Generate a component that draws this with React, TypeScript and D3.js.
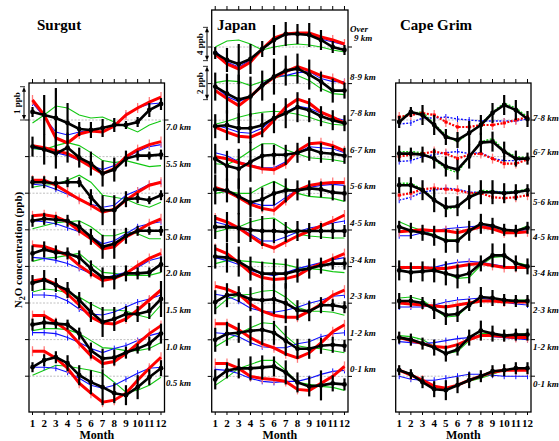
import * as d3 from "d3";

const months = d3.range(1, 13);
const monthLabels = months.map(String);

// ---- Surgut (anomalies, ppb) ----
const surgutLevels = ["7.0 km", "5.5 km", "4.0 km", "3.0 km", "2.0 km", "1.5 km", "1.0 km", "0.5 km"];
const surgutObs = [
  [0.24, 0.15, 0.06, -0.09, -0.27, -0.3, -0.24, -0.15, -0.15, -0.06, 0.3, 0.48],
  [0.3, 0.21, 0.09, 0.27, -0.03, -0.21, -0.51, -0.39, -0.06, 0.03, 0.03, 0.06],
  [0.33, 0.33, 0.3, 0.33, 0.33, -0.12, -0.51, -0.51, -0.18, -0.15, -0.21, -0.06],
  [0.27, 0.33, 0.3, 0.27, 0.09, -0.21, -0.51, -0.42, -0.18, -0.03, -0.03, -0.03],
  [0.39, 0.51, 0.42, 0.39, 0.27, -0.06, -0.33, -0.33, -0.21, -0.21, -0.18, 0.06],
  [0.6, 0.69, 0.54, 0.39, 0.09, -0.27, -0.57, -0.48, -0.33, -0.33, -0.24, 0.12],
  [0.45, 0.51, 0.48, 0.45, 0.18, -0.33, -0.57, -0.54, -0.39, -0.27, -0.12, 0.18],
  [0.27, 0.48, 0.57, 0.39, 0.03, -0.18, -0.33, -0.51, -0.57, -0.33, -0.03, 0.24],
];
const surgutErr = [
  [0.15, 0.6, 0.9, 0.6, 0.21, 0.24, 0.27, 0.21, 0.12, 0.15, 0.21, 0.18],
  [0.3, 0.45, 0.45, 0.45, 0.3, 0.36, 0.39, 0.36, 0.24, 0.15, 0.12, 0.15],
  [0.18, 0.18, 0.21, 0.15, 0.15, 0.24, 0.45, 0.45, 0.24, 0.15, 0.12, 0.15],
  [0.18, 0.18, 0.15, 0.18, 0.18, 0.24, 0.36, 0.45, 0.24, 0.15, 0.12, 0.15],
  [0.24, 0.24, 0.21, 0.18, 0.21, 0.24, 0.3, 0.36, 0.24, 0.18, 0.15, 0.24],
  [0.24, 0.3, 0.21, 0.24, 0.24, 0.3, 0.45, 0.36, 0.24, 0.24, 0.24, 0.54],
  [0.18, 0.18, 0.15, 0.15, 0.18, 0.24, 0.3, 0.24, 0.18, 0.15, 0.21, 0.3],
  [0.15, 0.18, 0.18, 0.24, 0.3, 0.36, 0.54, 0.3, 0.3, 0.36, 0.24, 0.24],
];
const surgutRed = [
  [0.6, 0.15, -0.54, -0.69, -0.42, -0.33, -0.36, -0.18, 0.15, 0.36, 0.54, 0.69],
  [0.33, 0.27, 0.18, 0.09, -0.09, -0.3, -0.51, -0.36, 0, 0.21, 0.36, 0.45],
  [0.39, 0.39, 0.24, 0.03, -0.18, -0.36, -0.57, -0.48, -0.21, 0.03, 0.24, 0.33],
  [0.42, 0.45, 0.39, 0.24, -0.03, -0.27, -0.57, -0.51, -0.21, -0.03, 0.18, 0.33],
  [0.63, 0.6, 0.48, 0.33, 0.03, -0.21, -0.42, -0.36, -0.21, 0.03, 0.24, 0.39],
  [0.66, 0.72, 0.57, 0.27, -0.06, -0.42, -0.6, -0.63, -0.48, -0.21, 0.09, 0.39],
  [0.72, 0.72, 0.51, 0.27, -0.12, -0.48, -0.72, -0.66, -0.42, -0.12, 0.18, 0.42],
  [0.75, 0.75, 0.54, 0.24, -0.21, -0.51, -0.78, -0.72, -0.51, -0.12, 0.24, 0.57],
];
const surgutBlue = [
  [0.51, 0.09, -0.36, -0.45, -0.36, -0.3, -0.24, -0.15, 0.15, 0.36, 0.48, 0.51],
  [0.27, 0.21, 0.12, 0.03, -0.12, -0.27, -0.39, -0.27, -0.03, 0.15, 0.3, 0.36],
  [0.27, 0.24, 0.12, -0.03, -0.18, -0.33, -0.42, -0.36, -0.06, 0.09, 0.27, 0.33],
  [0.27, 0.24, 0.18, 0.06, -0.06, -0.21, -0.42, -0.33, -0.12, 0.09, 0.18, 0.24],
  [0.27, 0.24, 0.18, 0.09, -0.06, -0.21, -0.36, -0.27, -0.18, -0.03, 0.18, 0.27],
  [0.24, 0.24, 0.21, 0.06, -0.18, -0.33, -0.36, -0.27, -0.12, 0.03, 0.12, 0.24],
  [0.21, 0.21, 0.18, 0.06, -0.09, -0.27, -0.39, -0.27, -0.18, -0.03, 0.12, 0.21],
  [0.27, 0.27, 0.24, 0.12, -0.06, -0.27, -0.36, -0.27, -0.09, 0.09, 0.24, 0.27],
];
const surgutGreen = [
  [-0.09, 0.15, 0.42, 0.36, 0.15, 0.06, 0.09, -0.06, -0.21, -0.36, -0.15, -0.03],
  [0.24, 0.21, 0.33, 0.42, 0.33, 0.12, -0.12, -0.18, -0.12, -0.21, -0.3, -0.27],
  [0.18, 0.24, 0.27, 0.39, 0.54, 0.33, -0.06, -0.12, -0.18, -0.33, -0.42, -0.27],
  [0.03, 0.12, 0.21, 0.24, 0.27, 0.09, -0.18, -0.18, -0.06, -0.12, -0.27, -0.27],
  [0.15, 0.24, 0.27, 0.33, 0.39, 0.09, -0.18, -0.21, -0.27, -0.27, -0.27, -0.18],
  [0.33, 0.42, 0.39, 0.3, 0.18, -0.03, -0.21, -0.21, -0.24, -0.36, -0.45, -0.06],
  [0.27, 0.33, 0.33, 0.3, 0.18, -0.03, -0.24, -0.27, -0.33, -0.33, -0.27, -0.09],
  [0.03, 0.18, 0.33, 0.3, 0.24, 0.18, 0.09, -0.18, -0.48, -0.42, -0.27, -0.03],
];

// ---- Japan ----
const japanLevels = ["Over 9 km", "8-9 km", "7-8 km", "6-7 km", "5-6 km", "4-5 km", "3-4 km", "2-3 km", "1-2 km", "0-1 km"];
const japanObs = [
  [-0.72, -1.56, -2.04, -1.44, -0.24, 0.84, 1.56, 1.56, 1.44, 0.84, 0, -0.36],
  [-0.18, -0.6, -0.96, -0.78, -0.12, 0.42, 0.78, 0.9, 0.54, 0.12, -0.42, -0.42],
  [-0.36, -0.3, -0.48, -0.48, -0.3, 0.12, 0.42, 0.78, 0.6, 0.24, 0, -0.18],
  [-0.12, -0.54, -0.72, -0.3, 0.06, 0.12, 0.12, 0.24, 0.48, 0.24, 0.18, 0.06],
  [0.24, 0.18, -0.18, -0.54, -0.36, 0, 0.18, 0.18, 0.3, 0.24, 0.06, 0],
  [0.18, 0.18, 0.12, 0, -0.06, -0.06, -0.12, -0.06, -0.06, -0.06, -0.06, -0.06],
  [0.6, 0.54, 0.3, -0.12, -0.42, -0.42, -0.42, -0.24, -0.12, 0.06, 0.18, 0.18],
  [0.06, 0.48, 0.54, 0.24, 0.18, 0.24, 0, -0.42, -0.48, -0.12, -0.12, -0.24],
  [0, 0.36, 0.42, 0.54, 0.6, 0.42, -0.06, -0.54, -0.54, -0.36, -0.3, -0.36],
  [-0.18, 0.36, 0.48, 0.48, 0.54, 0.6, 0.24, -0.36, -0.6, -0.54, -0.42, -0.48],
];
const japanErr = [
  [0.72, 1.44, 2.4, 1.8, 0.96, 1.8, 1.44, 1.2, 1.44, 1.2, 0.72, 0.6],
  [0.84, 1.2, 1.5, 1.2, 0.9, 1.08, 0.9, 0.9, 0.9, 0.6, 0.72, 0.48],
  [0.72, 0.9, 0.9, 0.9, 0.72, 0.9, 0.9, 0.9, 0.72, 0.6, 0.6, 0.48],
  [0.9, 0.9, 1.2, 1.2, 0.72, 0.6, 0.6, 0.6, 0.72, 0.6, 0.48, 0.48],
  [0.9, 0.72, 1.08, 0.9, 0.72, 0.72, 0.72, 0.6, 0.48, 0.48, 0.48, 0.48],
  [0.72, 0.9, 0.9, 0.72, 0.9, 0.72, 0.6, 0.6, 0.48, 0.48, 0.48, 0.36],
  [0.72, 0.9, 0.9, 0.72, 0.72, 0.9, 0.9, 0.72, 0.6, 0.48, 0.36, 0.36],
  [0.72, 0.72, 0.48, 0.72, 0.9, 0.9, 1.2, 0.6, 0.6, 0.48, 0.36, 0.36],
  [0.72, 0.72, 0.6, 0.9, 0.9, 0.72, 0.9, 0.6, 0.6, 0.48, 0.48, 0.36],
  [0.6, 0.48, 0.6, 0.72, 0.72, 0.6, 0.72, 0.6, 0.6, 0.9, 0.48, 0.36],
];
const japanRed = [
  [-0.84, -2.04, -2.64, -1.8, -0.24, 1.08, 1.56, 1.68, 1.68, 1.2, 0.84, 0.36],
  [-0.42, -0.9, -1.32, -0.78, -0.12, 0.36, 0.72, 1.02, 0.78, 0.48, 0.3, 0],
  [-0.42, -0.72, -0.96, -1.02, -0.72, 0, 0.78, 1.26, 1.02, 0.48, 0.18, -0.18],
  [0, -0.12, -0.36, -0.54, -0.72, -0.78, -0.42, 0.36, 0.78, 0.84, 0.66, 0.36],
  [0.36, 0.12, -0.24, -0.66, -0.9, -1.02, -0.42, 0.18, 0.48, 0.6, 0.66, 0.66],
  [0.72, 0.48, 0.12, -0.36, -0.84, -1.08, -0.72, -0.36, -0.06, 0.24, 0.54, 0.9],
  [1.08, 0.78, 0.24, -0.36, -0.66, -0.78, -0.72, -0.54, -0.12, 0.18, 0.48, 0.78],
  [1.02, 0.84, 0.54, -0.06, -0.48, -0.72, -0.84, -0.84, -0.48, -0.06, 0.48, 0.78],
  [0.96, 0.96, 0.6, 0.12, -0.24, -0.48, -0.84, -1.08, -0.78, -0.18, 0.48, 0.9],
  [0.78, 0.78, 0.48, 0, -0.12, -0.18, -0.3, -0.78, -0.84, -0.42, 0, 0.6],
];
const japanBlue = [
  [-0.48, -1.8, -2.4, -1.56, -0.24, 0.96, 1.44, 1.56, 1.56, 0.96, 0.6, 0.24],
  [-0.18, -0.78, -1.08, -0.78, 0, 0.42, 0.48, 0.66, 0.72, 0.3, 0.12, 0.12],
  [-0.3, -0.48, -0.72, -0.78, -0.48, 0.12, 0.48, 0.84, 0.72, 0.42, 0.18, 0],
  [0.24, 0.06, -0.3, -0.48, -0.66, -0.66, -0.3, 0.24, 0.6, 0.54, 0.48, 0.24],
  [0.3, 0.06, -0.24, -0.54, -0.72, -0.72, -0.24, 0.24, 0.36, 0.48, 0.54, 0.48],
  [0.48, 0.3, 0.12, -0.24, -0.66, -0.66, -0.42, -0.12, 0.12, 0.24, 0.42, 0.54],
  [0.54, 0.36, 0.12, -0.24, -0.42, -0.54, -0.36, -0.12, 0.06, 0.24, 0.42, 0.54],
  [0.54, 0.42, 0.12, -0.3, -0.48, -0.54, -0.42, -0.24, 0, 0.18, 0.42, 0.48],
  [0.42, 0.36, 0.18, -0.18, -0.42, -0.48, -0.48, -0.24, -0.12, 0.18, 0.36, 0.42],
  [0.42, 0.36, 0.18, -0.12, -0.3, -0.36, -0.3, -0.3, -0.12, 0.12, 0.3, 0.36],
];
const japanGreen = [
  [0, 0.72, 0.84, 0.36, -0.36, 0, 0.24, 0.36, 0.24, 0, -0.36, -0.6],
  [0.06, 0.18, 0.12, -0.12, 0.12, 0.36, 0.48, 0.48, 0.18, -0.3, -0.6, -0.66],
  [-0.24, -0.06, 0.18, 0.36, 0.48, 0.54, 0.48, 0.36, 0.18, -0.06, -0.24, -0.3],
  [-0.42, -0.48, -0.12, 0.36, 0.78, 0.78, 0.42, 0.18, -0.06, -0.12, -0.18, -0.3],
  [0, 0.12, 0, 0, 0.42, 0.72, 0.36, 0, -0.18, -0.24, -0.3, -0.48],
  [-0.12, 0.06, 0.18, 0.48, 0.66, 0.72, 0.24, -0.24, -0.36, -0.42, -0.48, -0.48],
  [0.18, 0.36, 0.36, 0.3, 0.24, 0.18, 0.12, -0.06, -0.12, -0.18, -0.3, -0.36],
  [-0.36, 0.24, 0.48, 0.54, 0.72, 0.78, 0.36, -0.24, -0.48, -0.48, -0.54, -0.72],
  [-0.42, 0, 0.36, 0.72, 1.02, 0.96, 0.24, -0.36, -0.48, -0.54, -0.66, -0.78],
  [-0.54, -0.06, 0.48, 0.72, 0.96, 0.96, 0.36, -0.36, -0.48, -0.6, -0.66, -0.84],
];

// ---- Cape Grim ----
const capeLevels = ["7-8 km", "6-7 km", "5-6 km", "4-5 km", "3-4 km", "2-3 km", "1-2 km", "0-1 km"];
const capeObs = [
  [-0.06, 0.24, 0.15, -0.15, -0.51, -0.6, -0.39, -0.15, 0.21, 0.45, 0.3, 0.03],
  [0.09, 0.09, 0.06, -0.06, -0.3, -0.39, 0, 0.42, 0.45, 0.15, -0.06, -0.06],
  [0.24, 0.24, 0.09, -0.21, -0.42, -0.39, -0.12, 0.03, 0.03, 0, 0.03, 0.09],
  [0.09, -0.03, -0.09, -0.18, -0.33, -0.33, -0.03, 0.18, 0.12, 0, -0.03, 0.06],
  [-0.12, -0.18, -0.15, -0.12, -0.21, -0.3, -0.21, 0.09, 0.33, 0.33, 0.09, 0],
  [0.06, 0.06, 0, -0.18, -0.36, -0.33, -0.06, 0.18, 0.15, 0.09, 0.06, 0.06],
  [0.06, 0, -0.12, -0.24, -0.42, -0.3, 0.06, 0.27, 0.18, 0.12, 0.15, 0.15],
  [0.18, 0.06, -0.18, -0.39, -0.42, -0.27, -0.12, 0, 0.15, 0.18, 0.24, 0.24],
];
const capeErr = [
  [0.18, 0.15, 0.3, 0.3, 0.24, 0.24, 0.36, 0.3, 0.3, 0.3, 0.3, 0.24],
  [0.24, 0.18, 0.24, 0.3, 0.3, 0.3, 0.36, 0.3, 0.3, 0.3, 0.24, 0.18],
  [0.24, 0.24, 0.3, 0.36, 0.3, 0.3, 0.36, 0.36, 0.36, 0.3, 0.24, 0.18],
  [0.18, 0.24, 0.24, 0.3, 0.36, 0.36, 0.3, 0.3, 0.24, 0.18, 0.18, 0.18],
  [0.3, 0.3, 0.3, 0.36, 0.36, 0.36, 0.3, 0.24, 0.36, 0.36, 0.24, 0.24],
  [0.24, 0.18, 0.18, 0.3, 0.3, 0.24, 0.18, 0.3, 0.24, 0.18, 0.18, 0.18],
  [0.18, 0.18, 0.18, 0.24, 0.24, 0.18, 0.24, 0.3, 0.24, 0.18, 0.18, 0.18],
  [0.15, 0.15, 0.18, 0.24, 0.3, 0.24, 0.24, 0.18, 0.18, 0.18, 0.18, 0.18],
];
const capeRed = [
  [0.09, 0.15, 0.21, 0.15, -0.06, -0.21, -0.21, -0.15, -0.15, -0.09, 0, 0.09],
  [0, 0.06, 0.09, 0.15, 0.09, -0.06, 0.06, 0.09, -0.06, -0.21, -0.21, -0.09],
  [-0.06, 0, 0.12, 0.15, 0.12, 0.09, 0, 0, -0.12, -0.15, -0.12, -0.06],
  [-0.06, -0.03, 0, -0.03, -0.03, -0.09, 0, 0.09, 0.03, -0.09, -0.09, -0.06],
  [-0.03, -0.03, -0.03, -0.06, -0.06, 0, 0.06, 0.09, 0.03, -0.03, -0.03, -0.03],
  [0, -0.03, -0.06, -0.09, -0.12, -0.06, 0, 0.06, 0.06, 0.03, 0.03, 0.03],
  [0.06, -0.03, -0.12, -0.21, -0.24, -0.15, 0, 0.12, 0.12, 0.09, 0.06, 0.06],
  [0.18, 0.03, -0.12, -0.3, -0.36, -0.27, -0.12, 0, 0.12, 0.18, 0.18, 0.18],
];
const capeBlue = [
  [-0.12, -0.09, 0.06, 0.06, 0.09, 0.03, 0, -0.03, -0.03, -0.03, -0.03, 0.03],
  [-0.15, -0.12, 0, 0.06, 0.12, 0.15, 0.09, 0.12, -0.06, -0.12, -0.12, -0.06],
  [-0.21, -0.12, 0.03, 0.09, 0.15, 0.12, 0.03, 0.03, 0.06, 0.03, 0.03, 0.09],
  [-0.18, -0.18, -0.09, -0.03, 0.03, 0.06, 0.09, 0.12, 0.09, 0, -0.03, 0],
  [-0.03, -0.03, -0.03, -0.03, 0.06, 0.12, 0.15, 0.12, 0.06, 0, -0.03, -0.03],
  [-0.12, -0.12, -0.12, -0.06, 0.03, 0.09, 0.12, 0.15, 0.09, 0.03, -0.03, -0.06],
  [-0.06, -0.09, -0.12, -0.09, -0.03, 0.03, 0.06, 0.12, 0.09, 0.06, 0.03, 0],
  [0, -0.09, -0.12, -0.12, -0.06, 0, 0.06, 0.06, 0.03, 0, 0, 0],
];
const capeGreen = [
  [0.06, 0.21, 0.24, -0.12, -0.45, -0.66, -0.39, -0.12, 0.24, 0.51, 0.36, 0.09],
  [0.15, 0.15, 0.12, -0.09, -0.36, -0.48, 0, 0.45, 0.54, 0.18, 0, -0.03],
  [0.3, 0.3, 0.12, -0.18, -0.48, -0.42, -0.09, 0.09, 0.06, 0.03, 0.06, 0.12],
  [0.24, 0.09, -0.03, -0.15, -0.3, -0.3, -0.03, 0.09, 0.06, -0.06, -0.03, 0.12],
  [-0.03, -0.03, -0.03, -0.09, -0.21, -0.36, -0.33, 0.03, 0.27, 0.3, 0.12, 0.03],
  [0.15, 0.18, 0.09, -0.18, -0.42, -0.39, -0.06, 0.09, 0.09, 0.06, 0.09, 0.09],
  [0.12, 0.09, 0, -0.21, -0.42, -0.36, -0.03, 0.18, 0.18, 0.12, 0.15, 0.18],
  [0.18, 0.06, -0.18, -0.33, -0.39, -0.27, -0.15, -0.06, 0.06, 0.18, 0.24, 0.24],
];

type PanelDef = {
  title: string;
  titleX: number;
  titleY: number;
  x0: number;
  x1: number;
  top: number;
  bottom: number;
  base0: number;
  levels: string[];
  obs: number[][];
  err: number[][];
  red: number[][];
  blue: number[][];
  green: number[][];
  pxPerPpb: (i: number) => number;
  labelX: number;
  labelDy: (i: number) => number;
  dotted: number;
};

const STEP = 36.6;
const FONT = "'Liberation Serif', 'Times New Roman', serif";

const panels: PanelDef[] = [
  {
    title: "Surgut", titleX: 37, titleY: 30, x0: 29, x1: 164.5, top: 83, bottom: 412, base0: 120,
    levels: surgutLevels, obs: surgutObs, err: surgutErr, red: surgutRed, blue: surgutBlue, green: surgutGreen,
    pxPerPpb: () => 33.3, labelX: 166, labelDy: () => 10, dotted: 0,
  },
  {
    title: "Japan", titleX: 217, titleY: 30, x0: 211.7, x1: 348, top: 10, bottom: 412, base0: 47,
    levels: japanLevels, obs: japanObs, err: japanErr, red: japanRed, blue: japanBlue, green: japanGreen,
    pxPerPpb: (i) => (i === 0 ? 8.33 : 16.67), labelX: 350, labelDy: () => -4, dotted: 0,
  },
  {
    title: "Cape Grim", titleX: 400, titleY: 30, x0: 395.7, x1: 531, top: 83, bottom: 412, base0: 120,
    levels: capeLevels, obs: capeObs, err: capeErr, red: capeRed, blue: capeBlue, green: capeGreen,
    pxPerPpb: () => 33.3, labelX: 533, labelDy: (i) => [1, -2, 12, 10, 10, 10, 10, 11][i], dotted: 3,
  },
];

function Panel({ p }: { p: PanelDef }) {
  const x = d3.scaleLinear().domain([0.7, 12.3]).range([p.x0, p.x1]);
  const base = (i: number) => p.base0 + i * STEP;
  const yOf = (i: number) =>
    d3.scaleLinear().domain([0, 1]).range([base(i), base(i) - p.pxPerPpb(i)]);
  const lineFor = (i: number) =>
    d3.line<number>().x((_, j) => x(months[j])).y((v) => yOf(i)(v));

  return (
    <g>
      {/* baselines */}
      {p.levels.map((l, i) => (
        <line key={"b" + l} x1={p.x0} x2={p.x1} y1={base(i)} y2={base(i)} stroke="#b0b0b0" strokeWidth={0.8} strokeDasharray="2,1.5" />
      ))}
      {/* green */}
      {p.green.map((s, i) => (
        <path key={"g" + i} d={lineFor(i)(s) || ""} fill="none" stroke="#12c812" strokeWidth={i < p.dotted ? 1.4 : 1.1}
          strokeDasharray={i < p.dotted ? "2,1.5" : undefined} />
      ))}
      {/* blue */}
      {p.blue.map((s, i) => (
        <g key={"bl" + i}>
          <path d={lineFor(i)(s) || ""} fill="none" stroke="#1010ff" strokeWidth={i < p.dotted ? 1.4 : 1.1}
            strokeDasharray={i < p.dotted ? "2,1.5" : undefined} />
          {s.map((v, j) => (
            <line key={j} x1={x(months[j])} x2={x(months[j])} y1={yOf(i)(v) - 3} y2={yOf(i)(v) + 3} stroke="#1010ff" strokeWidth={1} />
          ))}
        </g>
      ))}
      {/* red */}
      {p.red.map((s, i) => (
        <g key={"r" + i}>
          {s.map((v, j) => (
            <line key={j} x1={x(months[j])} x2={x(months[j])} y1={yOf(i)(v) - 5} y2={yOf(i)(v) + 5} stroke="#ff7a7a" strokeWidth={1.3} />
          ))}
          <path d={lineFor(i)(s) || ""} fill="none" stroke="#ff0000" strokeWidth={i < p.dotted ? 2.2 : 3}
            strokeDasharray={i < p.dotted ? "2,1.5" : undefined} />
          {i < p.dotted &&
            s.map((v, j) => (
              <rect key={"m" + j} x={x(months[j]) - 1.5} y={yOf(i)(v) - 1.5} width={3} height={3} fill="#ff0000" />
            ))}
        </g>
      ))}
      {/* black observations */}
      {p.obs.map((s, i) => (
        <g key={"k" + i}>
          {s.map((v, j) => (
            <line key={j} x1={x(months[j])} x2={x(months[j])}
              y1={yOf(i)(v + p.err[i][j])} y2={yOf(i)(v - p.err[i][j])} stroke="#000" strokeWidth={2.2} />
          ))}
          <path d={lineFor(i)(s) || ""} fill="none" stroke="#000" strokeWidth={2.6} />
          {s.map((v, j) => (
            <circle key={"c" + j} cx={x(months[j])} cy={yOf(i)(v)} r={2.4} fill="#000" />
          ))}
        </g>
      ))}
      {/* frame */}
      <rect x={p.x0} y={p.top} width={p.x1 - p.x0} height={p.bottom - p.top} fill="none" stroke="#000" strokeWidth={1.3} />
      {months.map((m) => (
        <g key={"t" + m}>
          <line x1={x(m)} x2={x(m)} y1={p.top - 4} y2={p.top} stroke="#000" strokeWidth={1} />
          <line x1={x(m)} x2={x(m)} y1={p.bottom} y2={p.bottom + 3} stroke="#000" strokeWidth={1} />
          <text x={x(m)} y={427} textAnchor="middle" fontSize={11} fontWeight="bold" fontFamily={FONT}>
            {monthLabels[m - 1]}
          </text>
        </g>
      ))}
      <text x={(p.x0 + p.x1) / 2} y={439} textAnchor="middle" fontSize={12} fontWeight="bold" fontFamily={FONT}>Month</text>
      {p.levels.map((l, i) => (
        <g key={"lt" + l}>
          <line x1={p.x0 - 4} x2={p.x0} y1={base(i)} y2={base(i)} stroke="#000" strokeWidth={1} />
          <line x1={p.x1} x2={p.x1 + 4} y1={base(i)} y2={base(i)} stroke="#000" strokeWidth={1} />
          {l.startsWith("Over") ? (
            <text fontSize={9} fontWeight="bold" fontStyle="italic" fontFamily={FONT}>
              <tspan x={p.labelX} y={base(i) - 15}>Over</tspan>
              <tspan x={p.labelX + 4} y={base(i) - 6}>9 km</tspan>
            </text>
          ) : (
            <text x={p.labelX} y={base(i) + p.labelDy(i)} fontSize={9} fontWeight="bold" fontStyle="italic" fontFamily={FONT}>
              {l}
            </text>
          )}
        </g>
      ))}
      <text x={p.titleX} y={p.titleY} fontSize={15} fontWeight="bold" fontFamily={FONT}>{p.title}</text>
    </g>
  );
}

function ScaleArrow({ x, y1, y2 }: { x: number; y1: number; y2: number }) {
  return (
    <g stroke="#000" fill="#000">
      <line x1={x} x2={x} y1={y1 + 3} y2={y2 - 3} strokeWidth={1} />
      <path d={`M${x},${y1} L${x - 2},${y1 + 5} L${x + 2},${y1 + 5} Z`} strokeWidth={0} />
      <path d={`M${x},${y2} L${x - 2},${y2 - 5} L${x + 2},${y2 - 5} Z`} strokeWidth={0} />
      <line x1={x - 4} x2={x + 1} y1={y1} y2={y1} strokeWidth={0.8} />
      <line x1={x - 4} x2={x + 1} y1={y2} y2={y2} strokeWidth={0.8} />
    </g>
  );
}

export default function App() {
  const sy = (b: number, k: number, ppb: number) => [b - (ppb * k) / 2, b + (ppb * k) / 2];
  const surgutArrow = [120 - 33.3, 120];
  const japan4 = sy(44, 8.33, 4);
  const japan2 = sy(83, 16.67, 2);
  return (
    <svg width={559} height={441} style={{ position: "absolute", left: 0, top: 0, background: "#fff" }}>
      {panels.map((p) => (
        <Panel key={p.title} p={p} />
      ))}
      <ScaleArrow x={24} y1={surgutArrow[0]} y2={surgutArrow[1]} />
      <text transform="translate(20,103) rotate(-90)" textAnchor="middle" fontSize={9} fontWeight="bold" fontFamily={FONT}>1 ppb</text>
      <ScaleArrow x={207} y1={japan4[0]} y2={japan4[1]} />
      <text transform="translate(203,44) rotate(-90)" textAnchor="middle" fontSize={9} fontWeight="bold" fontFamily={FONT}>4 ppb</text>
      <ScaleArrow x={207} y1={japan2[0]} y2={japan2[1]} />
      <text transform="translate(203,83) rotate(-90)" textAnchor="middle" fontSize={9} fontWeight="bold" fontFamily={FONT}>2 ppb</text>
      <text transform="translate(22,250) rotate(-90)" textAnchor="middle" fontSize={11} fontWeight="bold" fontFamily={FONT}>
        N<tspan dy={2.5} fontSize={8}>2</tspan><tspan dy={-2.5}>O concentration (ppb)</tspan>
      </text>
    </svg>
  );
}
